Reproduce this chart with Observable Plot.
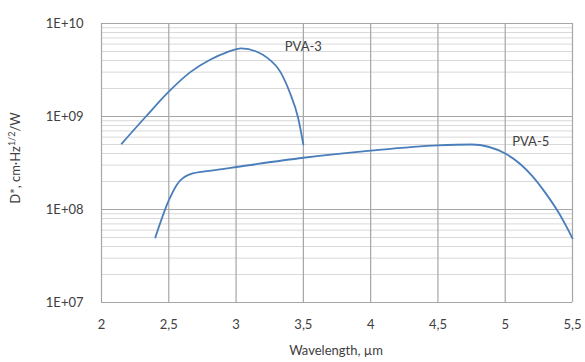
<!DOCTYPE html>
<html><head><meta charset="utf-8">
<script src="https://cdn.jsdelivr.net/npm/d3@7"></script>
<script src="https://cdn.jsdelivr.net/npm/@observablehq/plot@0.6"></script>
<style>body{margin:0;background:#fff;}</style>
</head><body><div id="chart"></div>
<script>
// PVA-3 series (wavelength µm, D*)
const pva3X = [2.15, 2.33, 2.5, 2.66, 2.81, 2.93, 3.04, 3.15, 3.23, 3.33, 3.40, 3.46, 3.5];
const pva3Y = [5.1e8, 1.0e9, 1.85e9, 3.0e9, 4.1e9, 4.9e9, 5.4e9, 5.0e9, 4.3e9, 3.0e9, 1.8e9, 9.8e8, 5.0e8];
// PVA-5 series
const pva5X = [2.4, 2.5, 2.56, 2.66, 2.8, 3.03, 3.5, 4.0, 4.5, 4.75, 5.0, 5.2, 5.3, 5.4, 5.5];
const pva5Y = [5.0e7, 1.25e8, 1.85e8, 2.4e8, 2.6e8, 2.9e8, 3.6e8, 4.3e8, 4.9e8, 5.0e8, 4.0e8, 2.3e8, 1.5e8, 9.1e7, 4.9e7];
// Series labels
const seriesNames = ["PVA-3", "PVA-5"];
const labelX = [3.5, 5.19];
const labelY = [5.6e9, 5.3e8];
// Axis ticks
const xTicks = [2, 2.5, 3, 3.5, 4, 4.5, 5, 5.5];
const xTickLabels = ["2", "2,5", "3", "3,5", "4", "4,5", "5", "5,5"];
const yTicks = [1e7, 1e8, 1e9, 1e10];
const yTickLabels = ["1E+07", "1E+08", "1E+09", "1E+10"];
const minorMultipliers = [2, 3, 4, 5, 6, 7, 8, 9];

const minorY = [];
for (const d of yTicks.slice(0, 3)) for (const m of minorMultipliers) minorY.push(d * m);
const pva3 = pva3X.map((x, i) => ({x, y: pva3Y[i]}));
const pva5 = pva5X.map((x, i) => ({x, y: pva5Y[i]}));
const labels = seriesNames.map((n, i) => ({n, x: labelX[i], y: labelY[i]}));

const lineColor = "#4a7ebb";
const chart = Plot.plot({
  width: 585, height: 362,
  marginLeft: 101, marginRight: 13, marginTop: 23, marginBottom: 60,
  style: {fontFamily: "Lato, 'Open Sans', sans-serif", fontSize: "13px", color: "#404040", background: "#fff"},
  x: {domain: [2, 5.5]},
  y: {type: "log", domain: [1e7, 1e10]},
  marks: [
    Plot.ruleY(minorY, {stroke: "#d9d9d9", strokeWidth: 1}),
    Plot.ruleY(yTicks, {stroke: "#a6a6a6", strokeWidth: 1.2}),
    Plot.ruleX(xTicks, {stroke: "#a6a6a6", strokeWidth: 1.2}),
    Plot.axisY(yTicks, {tickSize: 0, tickPadding: 18, tickFormat: d => yTickLabels[yTicks.indexOf(d)], label: null, fontSize: 13}),
    Plot.axisX(xTicks, {tickSize: 0, tickPadding: 17, tickFormat: d => xTickLabels[xTicks.indexOf(d)], label: null, fontSize: 13}),
    Plot.line(pva3, {x: "x", y: "y", curve: "monotone-x", stroke: lineColor, strokeWidth: 1.8}),
    Plot.line(pva5, {x: "x", y: "y", curve: "monotone-x", stroke: lineColor, strokeWidth: 1.8}),
    Plot.text(labels, {x: "x", y: "y", text: "n", fill: "#404040", fontSize: 13})
  ]
});
document.getElementById("chart").appendChild(chart);

const svg = d3.select(chart);
svg.append("text")
  .attr("x", 336).attr("y", 355)
  .attr("text-anchor", "middle")
  .attr("fill", "#404040").attr("font-size", 13)
  .text("Wavelength, µm");
const yl = svg.append("text")
  .attr("transform", "translate(20,158) rotate(-90)")
  .attr("text-anchor", "middle")
  .attr("fill", "#404040").attr("font-size", 13);
yl.append("tspan").text("D*, cm·Hz");
yl.append("tspan").attr("font-size", 9).attr("dy", -5).text("1/2");
yl.append("tspan").attr("dy", 5).text("/W");
</script>
</body></html>
